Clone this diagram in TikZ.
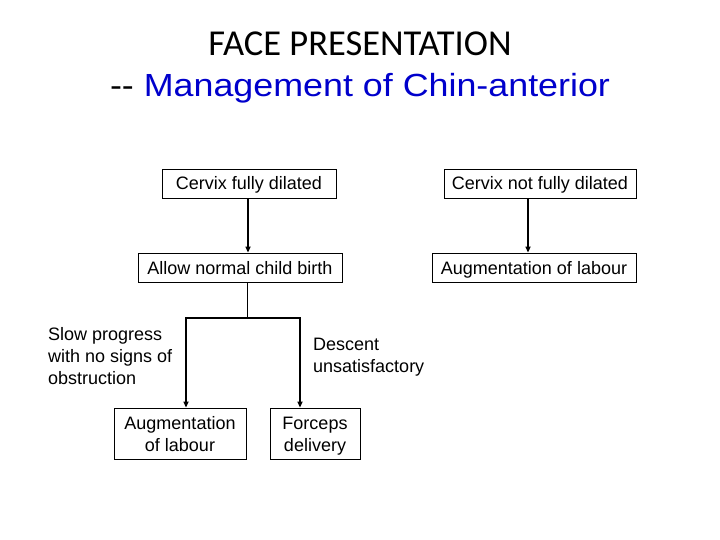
\documentclass[tikz,border=0pt]{standalone}
\usepackage{fontspec}
\setmainfont{Liberation Sans}
\newfontfamily\titlefont{Carlito}
\usetikzlibrary{arrows.meta}
\definecolor{titleblue}{RGB}{0,0,204}
\newcommand\bxstrut{\rule[-6pt]{0pt}{25pt}}
\newcommand\bxtop{\rule{0pt}{19pt}}
\newcommand\bxbot{\rule[-6pt]{0pt}{6pt}}
\begin{document}
\begin{tikzpicture}[x=1pt,y=-1pt,
  box/.style={draw,line width=0.8pt,inner sep=0pt,minimum height=29pt,font=\fontsize{18}{22}\selectfont,align=center},
  lbl/.style={inner sep=0pt,font=\fontsize{18}{22}\selectfont,align=left,anchor=north west},
  conn/.style={line width=1.5pt,-{Triangle[length=6pt,width=5pt]}},
  thin/.style={line width=0.8pt}]
\useasboundingbox (0,0) rectangle (720,540);
\fill[white] (0,0) rectangle (720,540);
\node[inner sep=0pt,anchor=base,font=\titlefont\fontsize{36.5}{40}\selectfont] (t1) at (360,56) {FACE PRESENTATION};
\node[inner sep=0pt,anchor=base,font=\fontsize{32}{38}\selectfont] (t2) at (360,97) {\scalebox{1.12}[1]{-{}- \textcolor{titleblue}{Management of Chin-anterior}}};
\node[box,minimum width=174pt] (cfd) at (249,183.5) {Cervix fully dilated\bxstrut};
\node[box,minimum width=192pt] (cnfd) at (540,183.5) {Cervix not fully dilated\bxstrut};
\node[box,minimum width=204pt] (anb) at (240,267.5) {Allow normal child birth\bxstrut};
\node[box,minimum width=204pt] (aol) at (534,267.5) {Augmentation of labour\bxstrut};
\node[box,minimum width=132pt,minimum height=51pt] (aol2) at (180,433.5) {Augmentation\bxtop\\of labour\bxbot};
\node[box,minimum width=90pt,minimum height=51pt] (fd) at (315,433.5) {Forceps\bxtop\\delivery\bxbot};
\node[lbl] (slow) at (48,327) {Slow progress\\with no signs of\\obstruction};
\node[lbl] (desc) at (313,338) {Descent\\unsatisfactory};
\coordinate (j) at (247,318);
\draw[conn] (cfd.south -| 248,0) -- (anb.north -| 248,0);
\draw[conn] (cnfd.south -| 528,0) -- (aol.north -| 528,0);
\draw[thin] (anb.south -| j) -- (j);
\draw[conn] (j) -| (aol2.north -| 186,0);
\draw[conn] (j) -| (fd.north -| 300,0);
\end{tikzpicture}
\end{document}
